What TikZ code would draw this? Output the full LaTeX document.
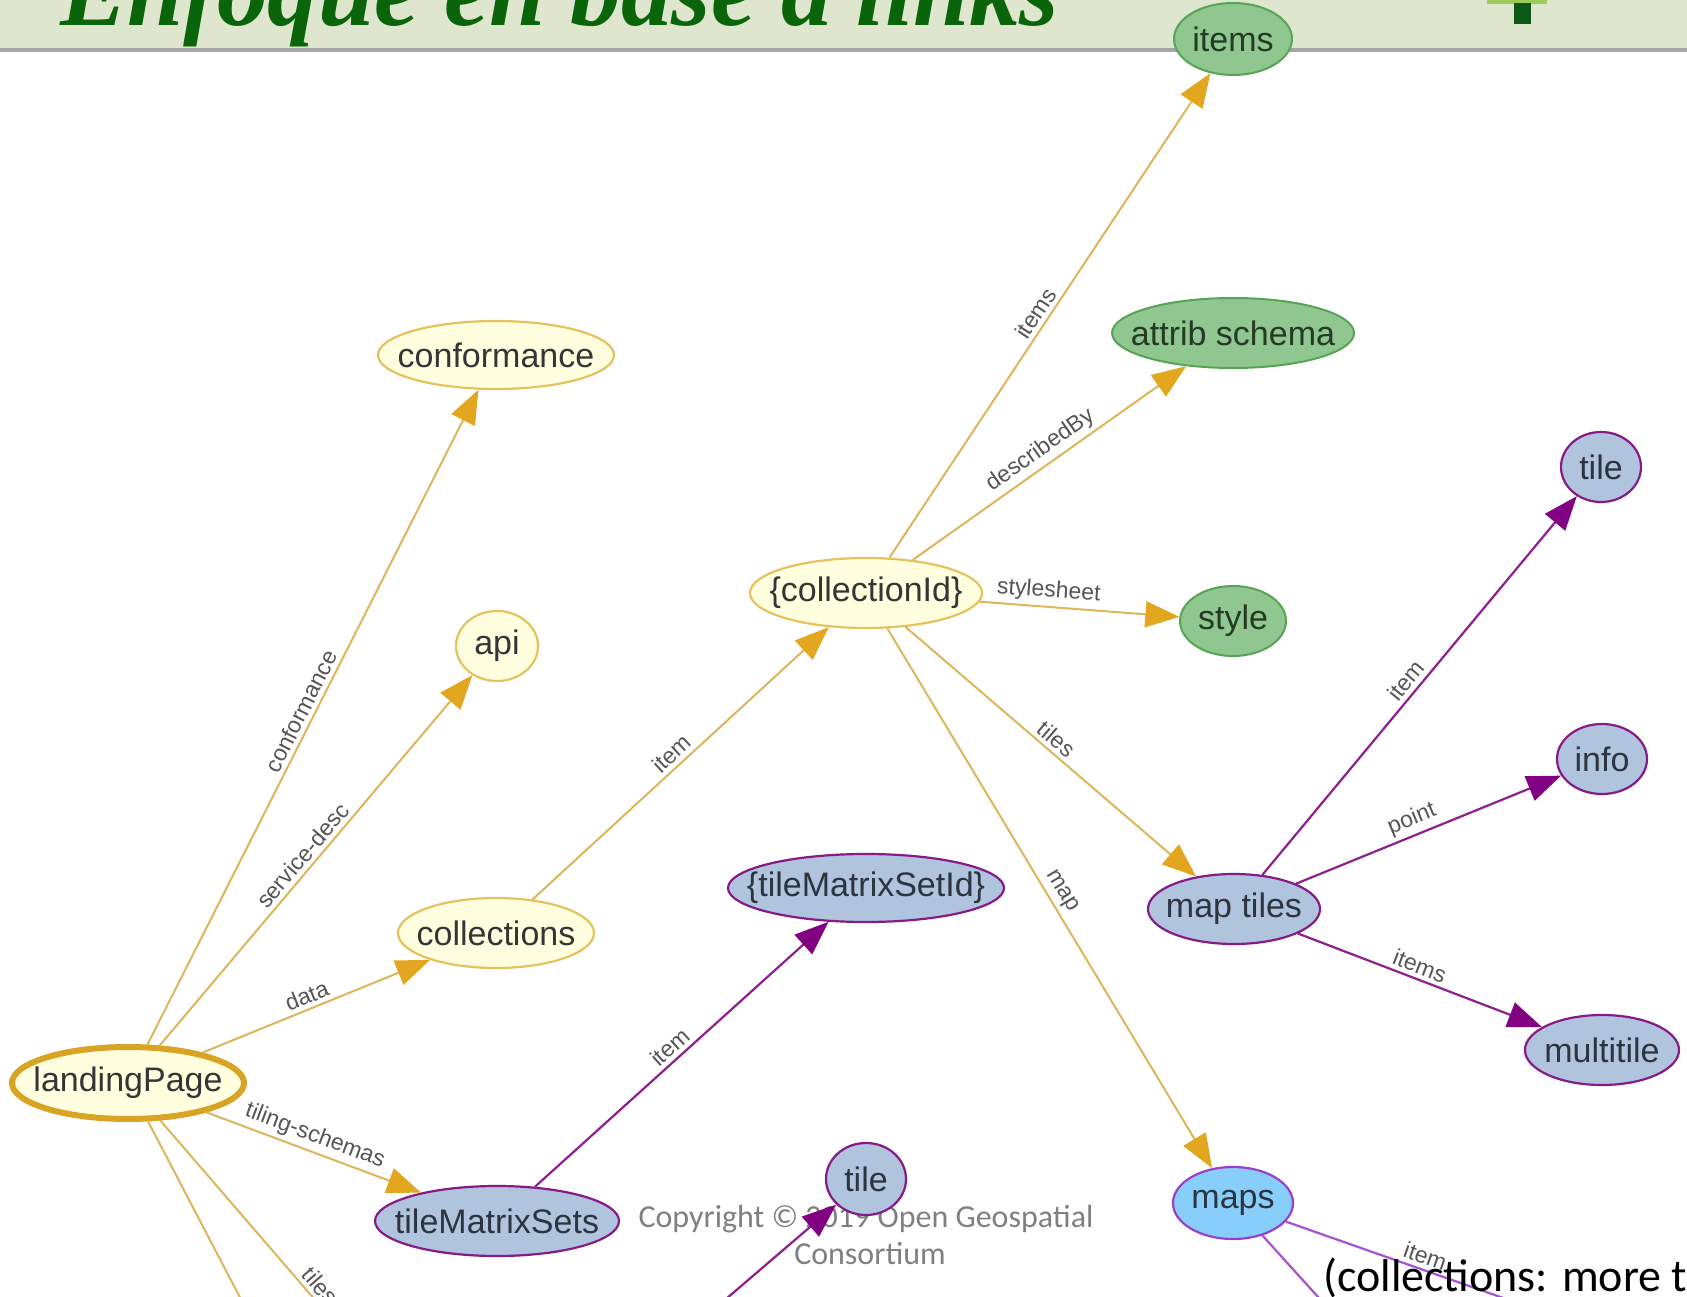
\documentclass[tikz,border=0pt]{standalone}
\usepackage{fontspec}
\setmainfont{Liberation Sans}
\newfontfamily\titlefont{Liberation Serif}
\newfontfamily\notefont{Carlito}
\usetikzlibrary{shapes.geometric,arrows.meta}

\definecolor{headbg}{HTML}{DFE6CE}
\definecolor{headline}{HTML}{A6A6A6}
\definecolor{titlegreen}{HTML}{0A650A}
\definecolor{iconlight}{HTML}{9CCB5A}
\definecolor{icondark}{HTML}{0B5A16}
\definecolor{txt}{HTML}{353535}
\definecolor{yfill}{HTML}{FFFFDF}
\definecolor{ydraw}{HTML}{E6C25E}
\definecolor{lpdraw}{HTML}{D9A424}
\definecolor{gfill}{HTML}{90C690}
\definecolor{gdraw}{HTML}{55A555}
\definecolor{gtxt}{HTML}{243A24}
\definecolor{pfill}{HTML}{B0C4DE}
\definecolor{pdraw}{HTML}{861A86}
\definecolor{ptxt}{HTML}{2C3440}
\definecolor{mfill}{HTML}{87CEFA}
\definecolor{mdraw}{HTML}{9A3FCB}
\definecolor{gline}{HTML}{DDB65C}
\definecolor{garrow}{HTML}{E2A71F}
\definecolor{pline}{HTML}{8E1F8E}
\definecolor{parrow}{HTML}{820082}
\definecolor{mline}{HTML}{A652D2}
\definecolor{lblgray}{HTML}{555555}
\definecolor{copygray}{HTML}{808080}

% node text kept out of the shape size, so the ellipse takes its given axes
\newcommand\nodetext[1]{\makebox[0pt]{#1}}

\begin{document}
\begin{tikzpicture}[x=1pt,y=-1pt,
  base/.style={ellipse, inner sep=0pt, font=\fontsize{34}{38}\selectfont, text=txt},
  ynode/.style={base, fill=yfill, draw=ydraw, line width=2.2pt},
  lpnode/.style={base, fill=yfill, draw=lpdraw, line width=6pt},
  gnode/.style={base, fill=gfill, draw=gdraw, line width=2pt, text=gtxt},
  pnode/.style={base, fill=pfill, draw=pdraw, line width=2.2pt, text=ptxt},
  mnode/.style={base, fill=mfill, draw=mdraw, line width=2.2pt, text=ptxt},
  sz/.style 2 args={minimum width=#1pt, minimum height=#2pt},
  gedge/.style={draw=gline, line width=2pt, -{Triangle[length=34pt,width=26pt,color=garrow]}},
  gplain/.style={draw=gline, line width=2pt},
  pedge/.style={draw=pline, line width=2.2pt, -{Triangle[length=34pt,width=26pt,color=parrow]}},
  mplain/.style={draw=mline, line width=2.2pt},
  elabel/.style={sloped, above=3pt, inner sep=1pt, font=\fontsize{23}{25}\selectfont, text=lblgray},
  copytext/.style={anchor=base, inner sep=0pt, text=copygray, font=\notefont\fontsize{32}{36}\selectfont}
]
\useasboundingbox (0,0) rectangle (1687,1297);
\clip (0,0) rectangle (1687,1297);
\fill[white] (0,0) rectangle (1687,1297);

% header band with title and icon
\fill[headbg] (0,0) rectangle (1687,48);
\fill[headline] (0,48) rectangle (1687,52);
\node[anchor=base west, inner sep=0pt, text=titlegreen,
      font=\titlefont\bfseries\itshape\fontsize{101}{104}\selectfont] (title) at (60,26) {Enfoque en base a links};
\fill[iconlight] (1487,0) rectangle (1547,4);
\fill[icondark] (1514,3) rectangle (1531,24);

% copyright notice
\node[copytext] (copy1) at (866,1227) {Copyright © 2019 Open Geospatial};
\node[copytext] (copy2) at (870,1264) {Consortium};

% nodes
\node[lpnode, sz={232}{72}] (lp) at (128,1083) {\nodetext{landingPage}};
\node[ynode, sz={236}{68}] (conf) at (496,355) {\nodetext{conformance}};
\node[ynode, sz={82}{70}] (api) at (497,646) {\nodetext{api}};
\node[ynode, sz={196}{70}] (coll) at (496,933) {\nodetext{collections}};
\node[ynode, sz={232}{70}] (cid) at (866,593) {\nodetext{\{collectionId\}}};
\node[pnode, sz={244}{70}] (tms) at (497,1221) {\nodetext{tileMatrixSets}};
\node[pnode, sz={276}{68}] (tmsid) at (866,888) {\nodetext{\{tileMatrixSetId\}}};
\node[pnode, sz={80}{72}] (tileB) at (866,1179) {\nodetext{tile}};
\node[gnode, sz={118}{72}] (items) at (1233,39) {\nodetext{items}};
\node[gnode, sz={242}{70}] (attr) at (1233,333) {\nodetext{attrib schema}};
\node[gnode, sz={106}{70}] (style) at (1233,621) {\nodetext{style}};
\node[pnode, sz={80}{70}] (tileR) at (1601,467) {\nodetext{tile}};
\node[pnode, sz={90}{70}] (info) at (1602,759) {\nodetext{info}};
\node[pnode, sz={172}{70}] (mt) at (1234,909) {\nodetext{map tiles}};
\node[pnode, sz={154}{70}] (multi) at (1602,1050) {\nodetext{multitile}};
\node[mnode, sz={120}{72}] (maps) at (1233,1203) {\nodetext{maps}};

% free ends of links leaving the view
\coordinate (lpOut1) at (257,1330);
\coordinate (lpOut2) at (341,1330);
\coordinate (tileIn) at (705,1317);
\coordinate (mapsOut1) at (1600,1332);
\coordinate (mapsOut2) at (1348,1330);

% links from the landing page
\draw[gedge] (lp) -- (conf) node[elabel, pos=0.5] {conformance};
\draw[gedge] (lp) -- (api) node[elabel, pos=0.49] {service-desc};
\draw[gedge] (lp) -- (coll) node[elabel, pos=0.48] {data};
\draw[gedge] (lp) -- (tms) node[elabel, pos=0.48] {tiling-schemas};
\draw[gplain] (lp) -- (lpOut1);
\draw[gplain] (lp) -- (lpOut2) node[elabel, pos=0.83] {tiles};

% collections and a single collection
\draw[gedge] (coll) -- (cid) node[elabel, pos=0.5] {item};
\draw[gedge] (cid) -- (items) node[elabel, pos=0.49] {items};
\draw[gedge] (cid) -- (attr) node[elabel, pos=0.5] {describedBy};
\draw[gedge] (cid) -- (style) node[elabel, pos=0.34] {stylesheet};
\draw[gedge] (cid) -- (mt) node[elabel, pos=0.49] {tiles};
\draw[gedge] (cid) -- (maps) node[elabel, pos=0.5] {map};

% tiling schemas
\draw[pedge] (tms) -- (tmsid) node[elabel, pos=0.49] {item};
\draw[pedge] (tileIn) -- (tileB);

% map tiles
\draw[pedge] (mt) -- (tileR) node[elabel, pos=0.49] {item};
\draw[pedge] (mt) -- (info) node[elabel, pos=0.46] {point};
\draw[pedge] (mt) -- (multi) node[elabel, pos=0.48] {items};

% maps
\draw[mplain] (maps) -- (mapsOut1) node[elabel, pos=0.43] {item};
\draw[mplain] (maps) -- (mapsOut2);

% side note
\node[anchor=base west, inner sep=0pt, text=black,
      font=\notefont\fontsize{46}{50}\selectfont] (note) at (1323,1291) {(collections: more t};
\end{tikzpicture}
\end{document}
